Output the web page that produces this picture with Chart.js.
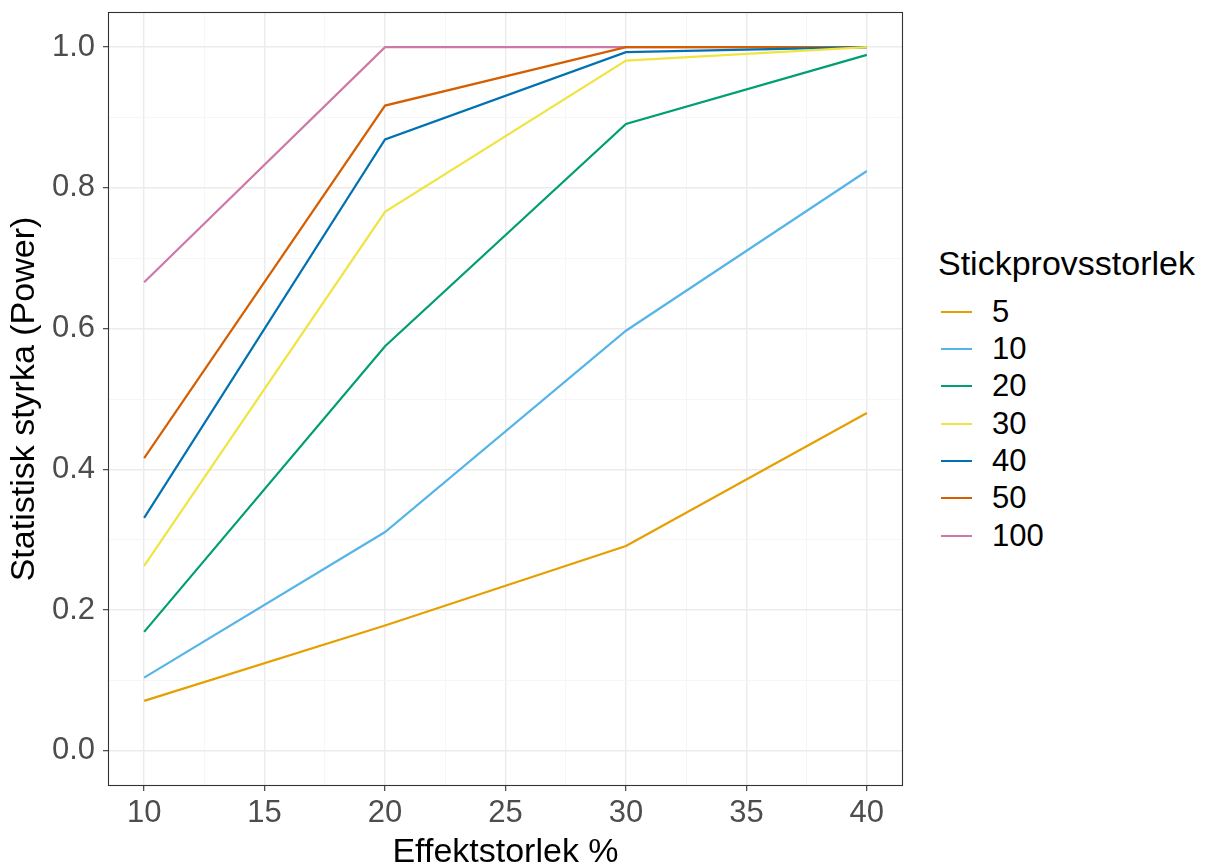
<!DOCTYPE html>
<html>
<head>
<meta charset="utf-8">
<script src="https://cdn.jsdelivr.net/npm/chart.js@4"></script>
<style>
  body { margin: 0; background: #fff; font-family: "Liberation Sans", Arial, sans-serif; }
  #wrap { position: absolute; left: 0; top: 0; width: 910px; height: 865px; }
  #legend { position: absolute; left: 0; top: 0; color: #000; }
  #legend .title { position: absolute; left: 938px; top: 246px; font-size: 34px; line-height: 34px; white-space: nowrap; }
  #legend .row { position: absolute; left: 941px; height: 37.33px; display: flex; align-items: center; font-size: 31px; white-space: nowrap; }
  #legend .key { width: 31px; height: 2.2px; margin-right: 20px; }
</style>
</head>
<body>
<div id="wrap"><canvas id="powerChart"></canvas></div>
<div id="legend"></div>
<script>
const effectSizes = [10, 20, 30, 40];
const sampleSizes = ['5', '10', '20', '30', '40', '50', '100'];
const power5 = [0.071, 0.178, 0.291, 0.480];
const power10 = [0.104, 0.311, 0.597, 0.824];
const power20 = [0.169, 0.575, 0.891, 0.989];
const power30 = [0.263, 0.766, 0.981, 1.0];
const power40 = [0.331, 0.869, 0.993, 1.0];
const power50 = [0.416, 0.917, 1.0, 1.0];
const power100 = [0.666, 1.0, 1.0, 1.0];
const powerSeries = [power5, power10, power20, power30, power40, power50, power100];
const colors = ['#E69F00', '#56B4E9', '#009E73', '#F0E442', '#0072B2', '#D55E00', '#CC79A7'];

const xTicks = [10, 12.5, 15, 17.5, 20, 22.5, 25, 27.5, 30, 32.5, 35, 37.5, 40];
const yTicks = [0, 0.1, 0.2, 0.3, 0.4, 0.5, 0.6, 0.7, 0.8, 0.9, 1.0];

const font = "'Liberation Sans', Arial, sans-serif";

const panelBorder = {
    id: 'panelBorder',
    afterDraw(chart) {
        const a = chart.chartArea;
        const c = chart.ctx;
        c.save();
        c.strokeStyle = '#333333';
        c.lineWidth = 1.1;
        c.strokeRect(a.left + 0.5, a.top + 0.5, a.right - a.left - 1, a.bottom - a.top - 1);
        c.restore();
    }
};

function isMajor(v, step) {
    return Math.abs(v / step - Math.round(v / step)) < 1e-6;
}

new Chart(document.getElementById('powerChart'), {
    type: 'line',
    data: {
        datasets: sampleSizes.map((n, i) => ({
            label: n,
            data: effectSizes.map((x, j) => ({ x: x, y: powerSeries[i][j] })),
            borderColor: colors[i],
            backgroundColor: colors[i],
            borderWidth: 2.2,
            pointRadius: 0,
            tension: 0,
            fill: false
        }))
    },
    options: {
        responsive: true,
        maintainAspectRatio: false,
        animation: false,
        layout: { padding: { left: 0, top: 12, right: 7, bottom: 0 } },
        plugins: { legend: { display: false }, tooltip: { enabled: false } },
        scales: {
            x: {
                type: 'linear',
                min: 8.5,
                max: 41.5,
                afterBuildTicks: s => { s.ticks = xTicks.map(v => ({ value: v })); },
                afterFit: s => { s.height = 79; s.paddingLeft = 0; s.paddingRight = 0; },
                border: { display: false },
                grid: {
                    color: ctx => isMajor(ctx.tick.value, 5) ? '#ebebeb' : '#f4f4f4',
                    lineWidth: ctx => isMajor(ctx.tick.value, 5) ? 1.4 : 0.8,
                    tickColor: ctx => isMajor(ctx.tick.value, 5) ? '#333333' : 'rgba(0,0,0,0)',
                    tickLength: 5,
                    tickWidth: 1.1
                },
                ticks: {
                    autoSkip: false,
                    maxRotation: 0,
                    padding: 4,
                    color: '#4d4d4d',
                    font: { family: font, size: 31 },
                    callback: v => isMajor(v, 5) ? String(v) : ''
                },
                title: {
                    display: true,
                    text: 'Effektstorlek %',
                    color: '#000',
                    font: { family: font, size: 34, lineHeight: 1 },
                    padding: { top: 0, bottom: -5 }
                }
            },
            y: {
                min: -0.05,
                max: 1.05,
                afterBuildTicks: s => { s.ticks = yTicks.map(v => ({ value: v })); },
                afterFit: s => { s.width = 108; s.paddingTop = 0; s.paddingBottom = 0; },
                border: { display: false },
                grid: {
                    color: ctx => isMajor(ctx.tick.value, 0.2) ? '#ebebeb' : '#f4f4f4',
                    lineWidth: ctx => isMajor(ctx.tick.value, 0.2) ? 1.4 : 0.8,
                    tickColor: ctx => isMajor(ctx.tick.value, 0.2) ? '#333333' : 'rgba(0,0,0,0)',
                    tickLength: 5,
                    tickWidth: 1.1
                },
                ticks: {
                    autoSkip: false,
                    padding: 8,
                    color: '#4d4d4d',
                    font: { family: font, size: 31 },
                    callback: v => isMajor(v, 0.2) ? v.toFixed(1) : ''
                },
                title: {
                    display: true,
                    text: 'Statistisk styrka (Power)',
                    color: '#000',
                    font: { family: font, size: 34, lineHeight: 1 },
                    padding: { top: 8, bottom: 0 }
                }
            }
        }
    },
    plugins: [panelBorder]
});

const legend = document.getElementById('legend');
legend.innerHTML = '<div class="title">Stickprovsstorlek</div>' +
    sampleSizes.map((n, i) =>
        '<div class="row" style="top:' + (293 + i * 37.33) + 'px"><span class="key" style="background:' + colors[i] + '"></span><span>' + n + '</span></div>'
    ).join('');
</script>
</body>
</html>
